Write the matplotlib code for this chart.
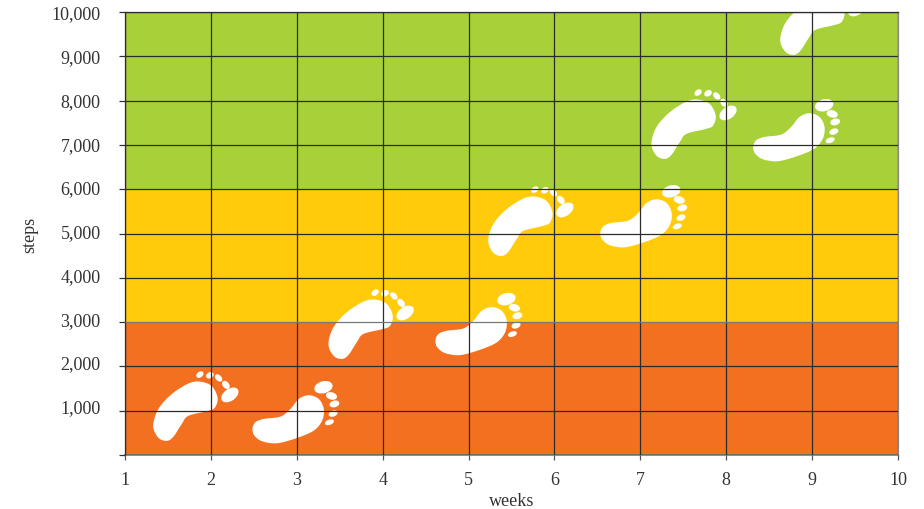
import numpy as np
import matplotlib
matplotlib.use('Agg')
import matplotlib.pyplot as plt
from matplotlib.patches import Ellipse, PathPatch
from matplotlib.path import Path
from matplotlib.transforms import Affine2D, ScaledTranslation

plt.rcParams['font.family'] = ['Liberation Serif', 'DejaVu Serif']

weeks = [1, 2, 3, 4, 5, 6, 7, 8, 9, 10]
step_ticks = [0, 1000, 2000, 3000, 4000, 5000, 6000, 7000, 8000, 9000, 10000]
step_labels = ['', '1,000', '2,000', '3,000', '4,000', '5,000', '6,000', '7,000', '8,000', '9,000', '10,000']

band_low = [0, 3000, 6000]
band_high = [3000, 6000, 10000]
band_colors = ['#F47021', '#FFCB0A', '#A8D038']

# where each footprint sits
left_week = [2.0, 4.04, 5.9, 7.8, 9.3]
left_steps = [1010, 2860, 5186, 7376, 9723]
right_week = [3.0, 5.13, 7.05, 8.83]
right_steps = [1010, 3000, 5434, 7376]

left_sole = [(-173, -47), (-158, 3), (-118, 48), (-68, 80), (-33, 86), (2, 73), (20, 38), (12, 8),
             (-9, -2), (-68, -17), (-88, -42), (-113, -80), (-133, -92), (-158, -82)]
left_toes = [(-33, 107, 24, 17, 35), (-3, 105, 24, 18, 30), (23, 97, 26, 17, -45),
             (45, 76, 28, 19, -50), (57, 46, 58, 36, 35)]
right_sole = [(-133, -56), (-124, -36), (-99, -26), (-49, -19), (-19, 4), (6, 34), (36, 45), (66, 34),
              (81, 4), (76, -31), (51, -61), (1, -83), (-59, -99), (-104, -93), (-127, -76)]
right_toes = [(80, 69, 56, 36, 15), (104, 43, 34, 22, -15), (113, 19, 30, 20, 15),
              (109, -10, 28, 18, 20), (98, -36, 28, 16, 20)]


def smooth_path(pts):
    """Closed catmull-rom curve through the points, as bezier segments"""
    pts = np.array(pts, dtype=float)
    n = len(pts)
    verts = [pts[0]]
    codes = [Path.MOVETO]
    for i in range(n):
        p0, p1, p2, p3 = pts[i - 1], pts[i], pts[(i + 1) % n], pts[(i + 2) % n]
        verts += [p1 + (p2 - p0) / 6, p2 - (p3 - p1) / 6, p2]
        codes += [Path.CURVE4] * 3
    return Path(verts, codes)


def draw_foot(ax, week, steps, sole, toes):
    px, py = ax.transData.transform((week, steps))
    tr = Affine2D().scale(1 / 3) + Affine2D().translate(px, py)
    ax.add_patch(PathPatch(smooth_path(sole), fc='white', ec='none', transform=tr, zorder=2))
    for x, y, w, h, ang in toes:
        ax.add_patch(Ellipse((x, y), w, h, angle=ang, fc='white', ec='none', transform=tr, zorder=2))


fig = plt.figure(figsize=(9.24, 5.10), dpi=100)
ax = fig.add_axes([125 / 924, 1 - 456 / 510, (898 - 125) / 924, (456 - 13) / 510])
ax.set_xlim(1, 10)
ax.set_ylim(0, 10000)

for low, high, color in zip(band_low, band_high, band_colors):
    ax.axhspan(low, high, color=color, lw=0, zorder=1)

for week, steps in zip(left_week, left_steps):
    draw_foot(ax, week, steps, left_sole, left_toes)
for week, steps in zip(right_week, right_steps):
    draw_foot(ax, week, steps, right_sole, right_toes)

ax.set_xticks(weeks)
ax.set_yticks(step_ticks)
ax.set_yticklabels(step_labels)
ax.grid(True, color='#2b2b2b', lw=0.9, zorder=3)
ax.set_axisbelow(False)
ax.get_ygridlines()[3].set_color('#777777')
ax.tick_params(axis='x', length=3.5, width=0.9, color='#555555', labelsize=13, labelcolor='#333333', pad=8)
ax.tick_params(axis='y', length=4.5, width=0.9, color='#333333', labelsize=13, labelcolor='#333333', pad=13)
for spine in ax.spines.values():
    spine.set_color('#3a3028')
    spine.set_linewidth(0.9)
ax.spines['right'].set_color('#888888')
ax.spines['bottom'].set_color('#777777')
ax.spines['bottom'].set_linewidth(1.2)

# y labels drift above their ticks towards the bottom of the axis in the original
for tick_value, label in zip(step_ticks, ax.get_yticklabels()):
    lift_px = (10000 - tick_value) / 9000 * 5
    label.set_transform(label.get_transform() + ScaledTranslation(0, lift_px / 100, fig.dpi_scale_trans))

ax.set_xlabel('weeks', fontsize=13, color='#333333', va='center')
ax.set_ylabel('steps', fontsize=13, color='#333333', va='center')
ax.xaxis.set_label_coords(0.5, -45 / 443)
ax.yaxis.set_label_coords(-95 / 773, 0.5)

fig.savefig('out.png', dpi=100)
